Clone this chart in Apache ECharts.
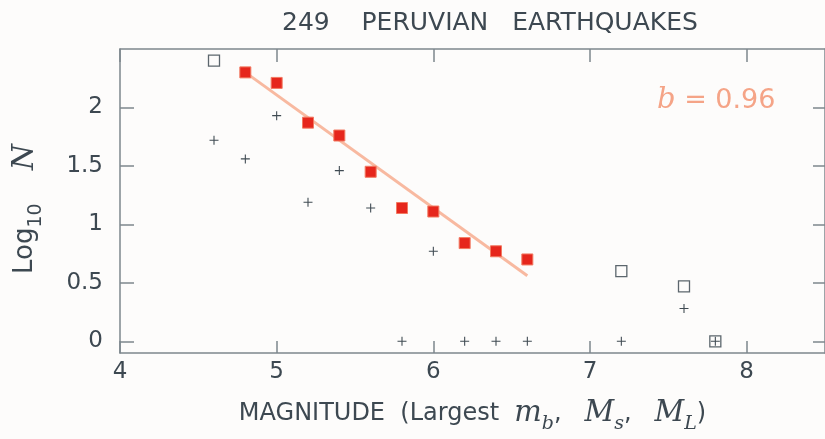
<!DOCTYPE html>
<html>
<head>
<meta charset="utf-8">
<script src="https://cdn.jsdelivr.net/npm/echarts@6/dist/echarts.min.js"></script>
<style>
  html, body { margin: 0; padding: 0; background: #fdfcfb; }
  #main { width: 825px; height: 439px; }
</style>
</head>
<body>
<div id="main"></div>
<script>
// magnitude bins
var fitMag = [4.8, 5.0, 5.2, 5.4, 5.6, 5.8, 6.0, 6.2, 6.4, 6.6];
var fitLogN = [2.30, 2.21, 1.87, 1.76, 1.45, 1.14, 1.11, 0.84, 0.77, 0.70];

var openMag = [4.6, 7.2, 7.6, 7.8];
var openLogN = [2.40, 0.60, 0.47, 0.0];

var plusMag = [4.6, 4.8, 5.0, 5.2, 5.4, 5.6, 5.8, 6.0, 6.2, 6.4, 6.6, 7.2, 7.6, 7.8];
var plusLogN = [1.72, 1.56, 1.93, 1.19, 1.46, 1.14, 0.0, 0.77, 0.0, 0.0, 0.0, 0.0, 0.28, 0.0];

// least squares line, b = 0.96
var lineMag = [4.8, 6.6];
var lineLogN = [2.30, 0.56];

var xTicks = [4, 5, 6, 7, 8];
var yTicks = [0, 0.5, 1, 1.5, 2];

function pairs(xs, ys) {
  var out = [];
  for (var i = 0; i < xs.length; i++) out.push([xs[i], ys[i]]);
  return out;
}

var axisColor = '#7d878d';
var textColor = '#3d4851';
var font = 'DejaVu Sans';
var mathFont = 'DejaVu Serif';
var plusPath = 'path://M4.4,0h1.2v10h-1.2z M0,4.4h10v1.2h-10z';

var myChart = echarts.init(document.getElementById('main'));
var option = {
  backgroundColor: '#fdfcfb',
  animation: false,
  title: [
    {
      text: '249    PERUVIAN   EARTHQUAKES',
      left: 277,
      top: 6,
      textStyle: { fontFamily: font, fontSize: 25, fontWeight: 'normal', color: textColor }
    },
    {
      text: '{i|b} = 0.96',
      left: 652,
      top: 81,
      textStyle: {
        fontFamily: font, fontSize: 27, fontWeight: 'normal', color: '#f5a487',
        rich: {
          i: { fontFamily: mathFont, fontStyle: 'italic', fontSize: 29, color: '#f5a487' }
        }
      }
    }
  ],
  grid: { left: 120, top: 49, width: 710, height: 305 },
  xAxis: [
    {
      type: 'value', min: 4, max: 8.5, position: 'bottom',
      splitLine: { show: false },
      axisLine: { onZero: false, lineStyle: { color: axisColor, width: 1.5 } },
      axisTick: { inside: true, length: 12, customValues: xTicks, lineStyle: { color: axisColor, width: 1.5 } },
      axisLabel: { customValues: xTicks, margin: 8, fontFamily: font, fontSize: 23, color: textColor },
      name: 'MAGNITUDE  (Largest  {i|m}{s|b},   {i|M}{s|s},   {i|M}{s|L})',
      nameLocation: 'middle',
      nameGap: 40,
      nameTextStyle: {
        fontFamily: font, fontSize: 24, color: textColor,
        rich: {
          i: { fontFamily: mathFont, fontStyle: 'italic', fontSize: 29, color: textColor },
          s: { fontFamily: mathFont, fontStyle: 'italic', fontSize: 19, color: textColor, verticalAlign: 'bottom', lineHeight: 41 }
        }
      }
    },
    {
      type: 'value', min: 4, max: 8.5, position: 'top',
      splitLine: { show: false },
      axisLine: { onZero: false, lineStyle: { color: axisColor, width: 1.5 } },
      axisTick: { inside: true, length: 13, customValues: xTicks, lineStyle: { color: axisColor, width: 1.5 } },
      axisLabel: { show: false }
    }
  ],
  yAxis: [
    {
      type: 'value', min: -0.1, max: 2.5, position: 'left',
      splitLine: { show: false },
      axisLine: { show: true, onZero: false, lineStyle: { color: axisColor, width: 1.5 } },
      axisTick: { show: true, inside: true, length: 14, customValues: yTicks, lineStyle: { color: axisColor, width: 1.5 } },
      axisLabel: { customValues: yTicks, margin: 17, fontFamily: font, fontSize: 23, color: textColor },
      name: 'Log{s|10}    {i|N}',
      nameLocation: 'middle',
      nameRotate: 90,
      nameGap: 74,
      nameTextStyle: {
        fontFamily: font, fontSize: 26, color: textColor, padding: [0, 16, 0, 0],
        rich: {
          i: { fontFamily: mathFont, fontStyle: 'italic', fontSize: 30, color: textColor },
          s: { fontFamily: font, fontSize: 19, color: textColor, verticalAlign: 'bottom', lineHeight: 42 }
        }
      }
    },
    {
      type: 'value', min: -0.1, max: 2.5, position: 'right',
      splitLine: { show: false },
      axisLine: { show: true, onZero: false, lineStyle: { color: axisColor, width: 1.5 } },
      axisTick: { show: true, inside: true, length: 12, customValues: yTicks, lineStyle: { color: axisColor, width: 1.5 } },
      axisLabel: { show: false }
    }
  ],
  series: [
    {
      name: 'fit',
      type: 'line',
      data: pairs(lineMag, lineLogN),
      showSymbol: false,
      lineStyle: { color: '#f8b9a0', width: 3 },
      z: 1
    },
    {
      name: 'plus',
      type: 'scatter',
      data: pairs(plusMag, plusLogN),
      symbol: plusPath,
      symbolSize: 9,
      itemStyle: { color: '#3f4a52', opacity: 1 },
      z: 2
    },
    {
      name: 'open',
      type: 'scatter',
      data: pairs(openMag, openLogN),
      symbol: 'rect',
      symbolSize: 11,
      itemStyle: { color: 'rgba(0,0,0,0)', borderColor: '#5c666d', borderWidth: 1.3, opacity: 1 },
      z: 3
    },
    {
      name: 'fitted',
      type: 'scatter',
      data: pairs(fitMag, fitLogN),
      symbol: 'rect',
      symbolSize: 11,
      itemStyle: { color: '#e6261c', borderColor: '#f27a62', borderWidth: 1, opacity: 1 },
      z: 4
    }
  ]
};
option && myChart.setOption(option);
</script>
</body>
</html>
